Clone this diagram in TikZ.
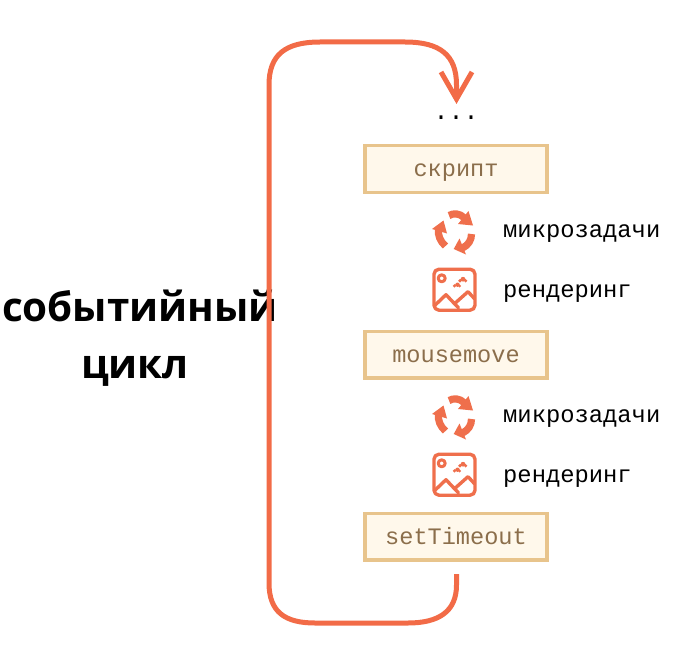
\documentclass[tikz,border=0pt]{standalone}
\usepackage{fontspec}
\setmainfont{Open Sans}
\setmonofont{Liberation Mono}
\usetikzlibrary{arrows.meta}
\definecolor{loopc}{HTML}{F26B47}
\definecolor{iconc}{HTML}{EF6F4C}
\definecolor{boxfill}{HTML}{FFF8EB}
\definecolor{boxline}{HTML}{E8C48C}
\definecolor{boxtext}{HTML}{8B6E4B}
\tikzset{
  x=1pt,y=-1pt,
  taskbox/.style={draw=boxline,fill=boxfill,line width=3.2pt,minimum width=182pt,minimum height=46.5pt,inner sep=0pt,text height=20pt,text depth=5pt,font=\fontsize{23.6}{23.6}\selectfont\ttfamily,text=boxtext},
  sidelabel/.style={anchor=base west,inner sep=0pt,font=\fontsize{23.8}{23.8}\selectfont\ttfamily,text=black},
  looppath/.style={draw=loopc,line width=5pt},
  titlelabel/.style={font=\fontsize{40.4}{57}\selectfont\bfseries,align=center,inner sep=0pt},
  iconline/.style={draw=iconc,line width=3.4pt,line join=round,line cap=round},
  iconarc/.style={draw=iconc,line width=7.2pt},
  iconfill/.style={fill=iconc,draw=none}
}
\newcommand{\recycleicon}[2]{%
  \begin{scope}[shift={(#1,#2)}]
    \draw[iconarc] (-4.5,-15.5) .. controls (0,-18) and (6,-18) .. (11,-13);
    \fill[iconfill] (15,-20) -- (19.5,-5.5) -- (4.5,-7) -- cycle;
    \draw[iconarc] (18,3) .. controls (18,9) and (15,14) .. (9,17);
    \fill[iconfill] (0.2,18) -- (12.5,23.5) -- (6,7.5) -- cycle;
    \draw[iconarc] (-15,-2) .. controls (-16,4) and (-13,11) .. (-8,15);
    \fill[iconfill] (-21.5,-2) -- (-10,-10.5) -- (-6.5,2.5) -- cycle;
  \end{scope}}
\newcommand{\pictureicon}[2]{%
  \begin{scope}[shift={(#1,#2)}]
    \draw[iconline,rounded corners=5pt] (-20.5,-20.5) rectangle (20.5,20.5);
    \draw[iconline,line width=3pt] (-12.8,-11.4) circle[radius=3.5];
    \draw[iconline] (-20,16) -- (-8.5,5) -- (0,14) -- (13.5,2) -- (20,9);
    \draw[iconline] (0,14) -- (4,18);
    \fill[iconfill] (0,-3.8) circle[radius=1.8] (3,-5) circle[radius=2.2] (5,-3.8) circle[radius=1.6];
    \fill[iconfill] (5.5,-9) circle[radius=1.9] (8.5,-10.5) circle[radius=2.4] (11,-9) circle[radius=1.8];
  \end{scope}}
\begin{document}
\begin{tikzpicture}
\useasboundingbox (0,0) rectangle (674,658);
\node[taskbox] (script) at (456,169) {скрипт};
\node[taskbox] (mouse) at (456,354.7) {mousemove};
\node[taskbox] (timeout) at (456,536.7) {setTimeout};
\node[anchor=base,inner sep=0pt,font=\fontsize{25}{25}\selectfont\ttfamily] (dots) at (456,120) {...};
\node[titlelabel] (title) at (140,338) {событийный\\цикл\hspace*{10pt}};
\coordinate (loopstart) at (456.5,574);
\coordinate (loopend) at (456.5,104);
\path[looppath,-{Straight Barb[length=27pt,width=31pt,line width=5pt,sharp]}]
  (loopstart) -- (456.5,585) .. controls (456.5,612) and (438,623) .. (408,623)
  -- (315,623) .. controls (285,623) and (269,612) .. (269,583)
  -- (269,85) .. controls (269,55) and (285,42) .. (320,42)
  -- (405,42) .. controls (440,42) and (456.5,55) .. (456.5,85) -- (loopend);
\recycleicon{453.5}{231}
\pictureicon{454.5}{289.7}
\recycleicon{453.5}{416}
\pictureicon{454.5}{474.7}
\node[sidelabel] (m1) at (503,237.2) {микрозадачи};
\node[sidelabel] (r1) at (503,297.5) {рендеринг};
\node[sidelabel] (m2) at (503,422.2) {микрозадачи};
\node[sidelabel] (r2) at (503,482.5) {рендеринг};
\end{tikzpicture}
\end{document}
